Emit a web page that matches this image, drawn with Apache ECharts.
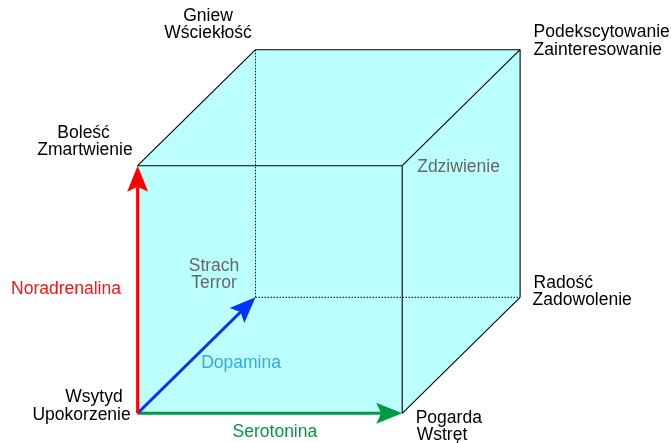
<!DOCTYPE html>
<html>
<head>
<meta charset="utf-8">
<script src="https://cdn.jsdelivr.net/npm/echarts@6/dist/echarts.min.js"></script>
<style>
html,body{margin:0;padding:0;background:#fff;}
#chart{width:671px;height:443px;}
</style>
</head>
<body>
<div id="chart"></div>
<script>
// Cube corners: [serotonina, dopamina, noradrenalina]
const corners = [
  [0,0,0],[1,0,0],[0,1,0],[1,1,0],
  [0,0,1],[1,0,1],[0,1,1],[1,1,1]
];
const cornerNames = [
  ['Wsytyd','Upokorzenie'],
  ['Pogarda','Wstręt'],
  ['Strach','Terror'],
  ['Radość','Zadowolenie'],
  ['Boleść','Zmartwienie'],
  ['Zdziwienie'],
  ['Gniew','Wściekłość'],
  ['Podekscytowanie','Zainteresowanie']
];
const axisNames = ['Serotonina','Dopamina','Noradrenalina'];
// faces of the visible silhouette (front, top, right)
const faces = [[0,1,5,4],[4,5,7,6],[1,3,7,5]];
const solidEdges = [[4,5],[1,5],[4,6],[6,7],[5,7],[1,3],[3,7]];
const dottedEdges = [[2,6],[2,3]];
// axis arrows: from corner to corner
const arrows = [[0,1],[0,2],[0,4]];

// ---- presentation ----
const KX = 0.4456, KY = 0.4685; // oblique projection of depth axis
function proj(c){ return [c[0] + c[1]*KX, c[2] + c[1]*KY]; }

const labelLayout = [
  [[-43.6,-16,'center'],[-56,2,'center']],
  [[13.5,4.5,'left'],[14.5,21.5,'left']],
  [[-41.5,-31,'center'],[-41.5,-14,'center']],
  [[13.5,-14,'left'],[12.5,3,'left']],
  [[-54,-32.7,'center'],[-52.6,-15.7,'center']],
  [[15,1.5,'left']],
  [[-47.5,-33.7,'center'],[-47.5,-16.7,'center']],
  [[13.5,-17.7,'left'],[13.5,0.3,'left']]
];
const cornerColors = ['#000','#000','#666','#000','#000','#666','#000','#000'];
const axisColors = ['#009944','#0033ff','#ff0000'];
const axisTextColors = ['#009944','#33aadd','#ff1111'];
const axisLabelOffset = [[5,19],[44.5,8],[-71.6,0]];
const FONT = '17.5px "Liberation Sans", Arial, sans-serif';

const chart = echarts.init(document.getElementById('chart'), null, {renderer:'canvas'});

function faceRender(params, api){
  const f = faces[params.dataIndex];
  const pts = f.map(i => api.coord(proj(corners[i])));
  return {type:'polygon', shape:{points:pts}, style:{fill:'#bbffff', stroke:'none'}};
}
function edgeRender(params, api){
  const e = solidEdges[params.dataIndex];
  const a = api.coord(proj(corners[e[0]])), b = api.coord(proj(corners[e[1]]));
  return {type:'line', shape:{x1:a[0],y1:a[1],x2:b[0],y2:b[1]}, style:{stroke:'#000', lineWidth:1.1}};
}
function dotRender(params, api){
  const e = dottedEdges[params.dataIndex];
  const a = api.coord(proj(corners[e[0]])), b = api.coord(proj(corners[e[1]]));
  return {type:'line', shape:{x1:a[0],y1:a[1],x2:b[0],y2:b[1]}, style:{stroke:'#000', lineWidth:1, lineDash:[1.5,1.5]}};
}
function arrowRender(params, api){
  const i = params.dataIndex;
  const e = arrows[i];
  const a = api.coord(proj(corners[e[0]])), b = api.coord(proj(corners[e[1]]));
  const dx = b[0]-a[0], dy = b[1]-a[1];
  const L = Math.sqrt(dx*dx+dy*dy);
  const ux = dx/L, uy = dy/L, nx = -uy, ny = ux;
  const HL = 26, HW = 10.5, NOTCH = 21;
  const base = [b[0]-ux*HL, b[1]-uy*HL];
  const notch = [b[0]-ux*NOTCH, b[1]-uy*NOTCH];
  const col = axisColors[i];
  return {type:'group', children:[
    {type:'line', shape:{x1:a[0],y1:a[1],x2:notch[0],y2:notch[1]}, style:{stroke:col, lineWidth:3}},
    {type:'polygon', shape:{points:[b,[base[0]+nx*HW, base[1]+ny*HW], notch, [base[0]-nx*HW, base[1]-ny*HW]]}, style:{fill:col}}
  ]};
}
function labelRender(params, api){
  const i = params.dataIndex;
  const p = api.coord(proj(corners[i]));
  const kids = cornerNames[i].map((t, j) => {
    const l = labelLayout[i][j];
    return {type:'text', x:p[0]+l[0], y:p[1]+l[1], style:{text:t, font:FONT, fill:cornerColors[i], align:l[2], verticalAlign:'middle'}};
  });
  return {type:'group', children:kids};
}
function axisLabelRender(params, api){
  const i = params.dataIndex;
  const e = arrows[i];
  const a = api.coord(proj(corners[e[0]])), b = api.coord(proj(corners[e[1]]));
  const o = axisLabelOffset[i];
  return {type:'text', x:(a[0]+b[0])/2+o[0], y:(a[1]+b[1])/2+o[1],
    style:{text:axisNames[i], font:FONT, fill:axisTextColors[i], align:'center', verticalAlign:'middle'}};
}

const option = {
  animation:false,
  backgroundColor:'#ffffff',
  grid:{left:0,right:0,top:0,bottom:0,containLabel:false},
  xAxis:{type:'value', min:-0.52003, max:2.01587, show:false},
  yAxis:{type:'value', min:-0.11995, max:1.66922, show:false},
  series:[
    {type:'custom', renderItem:faceRender, data:faces.map((f,i)=>i), silent:true, z:1},
    {type:'custom', renderItem:dotRender, data:dottedEdges.map((f,i)=>i), silent:true, z:2},
    {type:'custom', renderItem:edgeRender, data:solidEdges.map((f,i)=>i), silent:true, z:3},
    {type:'custom', renderItem:arrowRender, data:arrows.map((f,i)=>i), silent:true, z:4},
    {type:'custom', renderItem:labelRender, data:corners.map((f,i)=>i), silent:true, z:5},
    {type:'custom', renderItem:axisLabelRender, data:axisNames.map((f,i)=>i), silent:true, z:5}
  ]
};
chart.setOption(option);
</script>
</body>
</html>
